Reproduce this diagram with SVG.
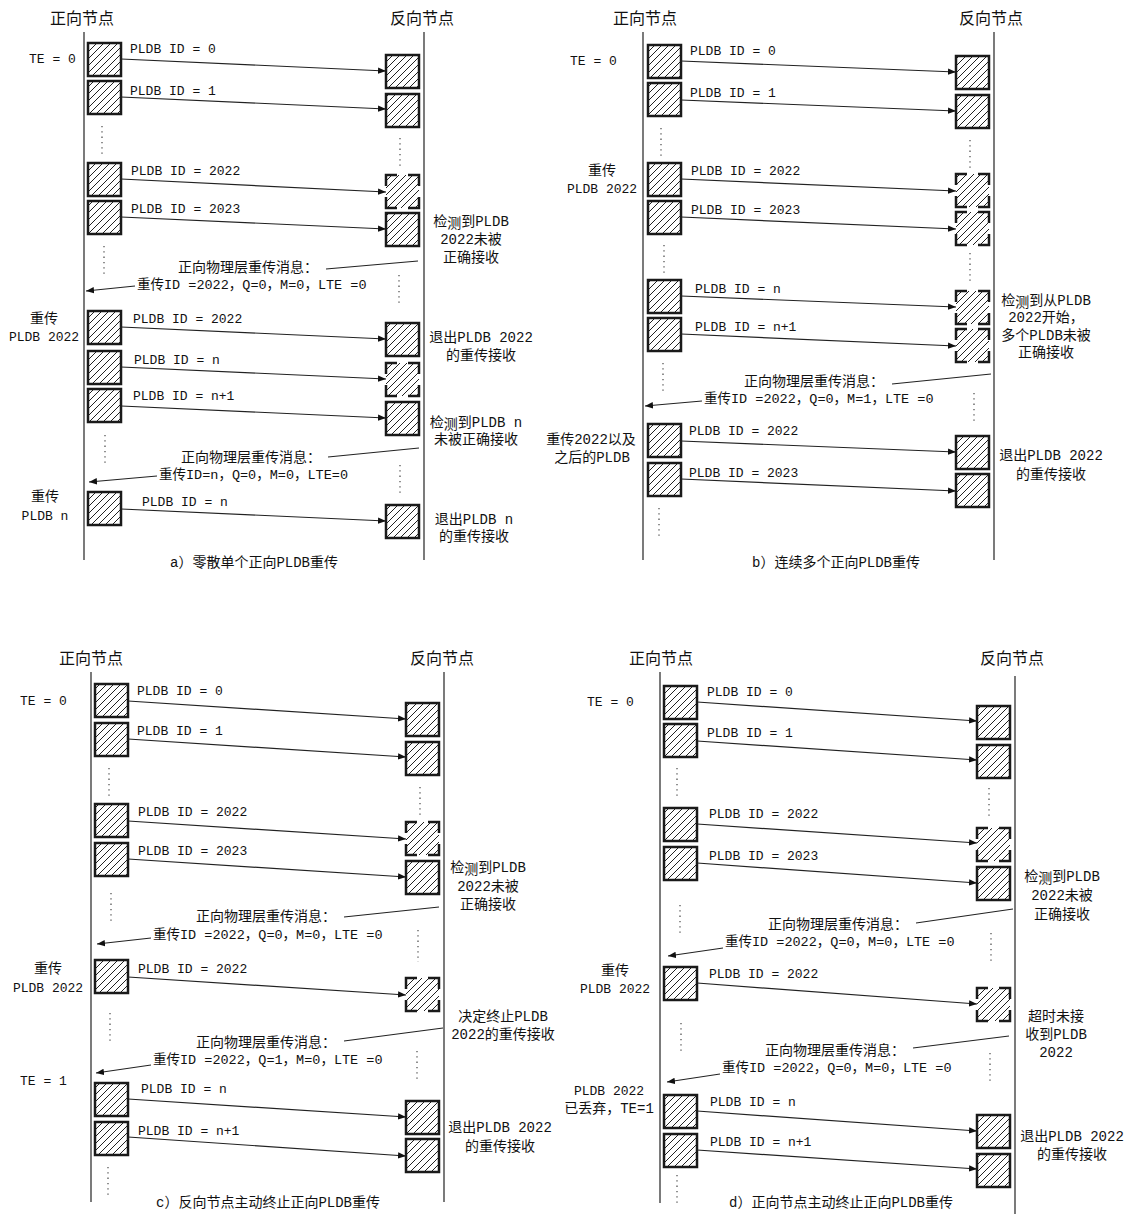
<svg xmlns="http://www.w3.org/2000/svg" width="1128" height="1214" viewBox="0 0 1128 1214">
<style>
.bg{fill:#fff}
.box{fill:url(#hatch);stroke:#1a1a1a;stroke-width:2.5}
.dbox{fill:url(#hatch);stroke:#1a1a1a;stroke-width:2.5;stroke-dasharray:22 11;stroke-dashoffset:11}
.life{stroke:#333;stroke-width:1.3;fill:none}
.arrow{stroke:#222;stroke-width:1.2;fill:none;marker-end:url(#arr)}
.line{stroke:#222;stroke-width:1.2;fill:none}
.dots{stroke:#555;stroke-width:1.3;stroke-dasharray:1.3 4;fill:none}
text{font-family:"Liberation Mono","Noto Sans CJK SC",monospace;fill:#111;dominant-baseline:central}
.t{font-size:13px}
.c{font-size:14px;text-anchor:middle}
.m{font-size:13.5px}
.h{font-size:16px;text-anchor:middle;font-family:"Noto Sans CJK SC",sans-serif}
.k{font-family:"Noto Sans CJK SC",sans-serif;fill:#111}
</style>
<defs>
<pattern id="hatch" patternUnits="userSpaceOnUse" width="7" height="7">
<rect width="7" height="7" fill="#fff"/>
<path d="M-1,1 l2,-2 M0,7 l7,-7 M6,8 l2,-2" stroke="#222" stroke-width="1"/>
</pattern>
<marker id="arr" viewBox="0 0 10 10" refX="10" refY="5" markerWidth="8" markerHeight="8" markerUnits="userSpaceOnUse" orient="auto">
<path d="M0,1 L10,5 L0,9 z" fill="#111"/>
</marker>
</defs>
<rect class="bg" width="1128" height="1214"/>

<!-- ================= Panel a ================= -->
<g id="panel-a">
<g id="a-lifelines">
<line class="life" x1="84" y1="32" x2="84" y2="560"/>
<line class="life" x1="424" y1="32" x2="424" y2="560"/>
<text class="h" x="82" y="17">正向节点</text>
<text class="h" x="422" y="17">反向节点</text>
</g>
<g id="a-nodes">
<g id="a-L1"><rect class="box" x="88" y="43" width="33" height="33"/></g>
<g id="a-R1"><rect class="box" x="386" y="55" width="33" height="33"/></g>
<g id="a-L2"><rect class="box" x="88" y="81" width="33" height="33"/></g>
<g id="a-R2"><rect class="box" x="386" y="94" width="33" height="33"/></g>
<g id="a-L3"><rect class="box" x="88" y="163" width="33" height="33"/></g>
<g id="a-R3"><rect class="dbox" x="386" y="175" width="33" height="33"/></g>
<g id="a-L4"><rect class="box" x="88" y="201" width="33" height="33"/></g>
<g id="a-R4"><rect class="box" x="386" y="213" width="33" height="33"/></g>
<g id="a-L5"><rect class="box" x="88" y="311" width="33" height="33"/></g>
<g id="a-R5"><rect class="box" x="386" y="323" width="33" height="33"/></g>
<g id="a-L6"><rect class="box" x="88" y="351" width="33" height="33"/></g>
<g id="a-R6"><rect class="dbox" x="386" y="363" width="33" height="33"/></g>
<g id="a-L7"><rect class="box" x="88" y="389" width="33" height="33"/></g>
<g id="a-R7"><rect class="box" x="386" y="402" width="33" height="33"/></g>
<g id="a-L8"><rect class="box" x="88" y="492" width="33" height="33"/></g>
<g id="a-R8"><rect class="box" x="386" y="505" width="33" height="33"/></g>
</g>
<g id="a-connectors">
<line class="arrow" x1="121" y1="59" x2="386" y2="71"/>
<line class="arrow" x1="121" y1="97" x2="386" y2="109"/>
<line class="arrow" x1="121" y1="179" x2="386" y2="192"/>
<line class="arrow" x1="121" y1="217" x2="386" y2="229"/>
<line class="arrow" x1="121" y1="327" x2="386" y2="339"/>
<line class="arrow" x1="121" y1="367" x2="386" y2="379"/>
<line class="arrow" x1="121" y1="406" x2="386" y2="418"/>
<line class="arrow" x1="121" y1="509" x2="386" y2="521"/>
<line class="line" x1="418" y1="261" x2="326" y2="269"/>
<line class="arrow" x1="135" y1="286" x2="86" y2="291"/>
<line class="line" x1="419" y1="448" x2="328" y2="457"/>
<line class="arrow" x1="157" y1="476" x2="89" y2="482"/>
<line class="dots" x1="102" y1="126" x2="102" y2="156"/>
<line class="dots" x1="104" y1="246" x2="104" y2="276"/>
<line class="dots" x1="105" y1="435" x2="105" y2="465"/>
<line class="dots" x1="400" y1="138" x2="400" y2="168"/>
<line class="dots" x1="399" y1="275" x2="399" y2="305"/>
<line class="dots" x1="400" y1="465" x2="400" y2="495"/>
</g>
<g id="a-labels">
<text class="t" x="130" y="49">PLDB ID = 0</text>
<text class="t" x="130" y="91">PLDB ID = 1</text>
<text class="t" x="131" y="171">PLDB ID = 2022</text>
<text class="t" x="131" y="209">PLDB ID = 2023</text>
<text class="t" x="133" y="319">PLDB ID = 2022</text>
<text class="t" x="134" y="360">PLDB ID = n</text>
<text class="t" x="133" y="396">PLDB ID = n+1</text>
<text class="t" x="142" y="502">PLDB ID = n</text>
<text class="t" x="29" y="59">TE = 0</text>
<text class="c" x="44" y="319">重传</text>
<text class="t" x="44" y="337" text-anchor="middle">PLDB 2022</text>
<text class="c" x="45" y="497">重传</text>
<text class="t" x="45" y="516" text-anchor="middle">PLDB n</text>
<text class="c" x="471" y="222">检<tspan class="k">测</tspan>到PLDB</text>
<text class="c" x="471" y="240">2022未被</text>
<text class="c" x="471" y="258">正确接收</text>
<text class="c" x="248" y="268">正向物理层重传消息：</text>
<text class="m" x="137" y="285">重传ID =2022，Q=0，M=0，LTE =0</text>
<text class="c" x="481" y="338">退出PLDB 2022</text>
<text class="c" x="481" y="356">的重传接收</text>
<text class="c" x="476" y="423">检<tspan class="k">测</tspan>到PLDB n</text>
<text class="c" x="476" y="440">未被正确接收</text>
<text class="c" x="251" y="458">正向物理层重传消息：</text>
<text class="m" x="159" y="475">重传ID=n，Q=0，M=0，LTE=0</text>
<text class="c" x="474" y="520">退出PLDB n</text>
<text class="c" x="474" y="537">的重传接收</text>
<text class="c" x="254" y="563">a）零散单个正向PLDB重传</text>
</g>
</g>

<!-- ================= Panel b ================= -->
<g id="panel-b">
<g id="b-lifelines">
<line class="life" x1="643" y1="32" x2="643" y2="560"/>
<line class="life" x1="994" y1="32" x2="994" y2="560"/>
<text class="h" x="645" y="17">正向节点</text>
<text class="h" x="991" y="17">反向节点</text>
</g>
<g id="b-nodes">
<g id="b-L1"><rect class="box" x="648" y="45" width="33" height="33"/></g>
<g id="b-R1"><rect class="box" x="956" y="56" width="33" height="33"/></g>
<g id="b-L2"><rect class="box" x="648" y="83" width="33" height="33"/></g>
<g id="b-R2"><rect class="box" x="956" y="95" width="33" height="33"/></g>
<g id="b-L3"><rect class="box" x="648" y="163" width="33" height="33"/></g>
<g id="b-R3"><rect class="dbox" x="956" y="174" width="33" height="33"/></g>
<g id="b-L4"><rect class="box" x="648" y="201" width="33" height="33"/></g>
<g id="b-R4"><rect class="dbox" x="956" y="212" width="33" height="33"/></g>
<g id="b-L5"><rect class="box" x="648" y="280" width="33" height="33"/></g>
<g id="b-R5"><rect class="dbox" x="956" y="291" width="33" height="33"/></g>
<g id="b-L6"><rect class="box" x="648" y="318" width="33" height="33"/></g>
<g id="b-R6"><rect class="dbox" x="956" y="329" width="33" height="33"/></g>
<g id="b-L7"><rect class="box" x="648" y="424" width="33" height="33"/></g>
<g id="b-R7"><rect class="box" x="956" y="436" width="33" height="33"/></g>
<g id="b-L8"><rect class="box" x="648" y="463" width="33" height="33"/></g>
<g id="b-R8"><rect class="box" x="956" y="474" width="33" height="33"/></g>
</g>
<g id="b-connectors">
<line class="arrow" x1="681" y1="61" x2="956" y2="72"/>
<line class="arrow" x1="681" y1="100" x2="956" y2="111"/>
<line class="arrow" x1="681" y1="179" x2="956" y2="191"/>
<line class="arrow" x1="681" y1="217" x2="956" y2="229"/>
<line class="arrow" x1="681" y1="296" x2="956" y2="307"/>
<line class="arrow" x1="681" y1="334" x2="956" y2="346"/>
<line class="arrow" x1="681" y1="441" x2="956" y2="452"/>
<line class="arrow" x1="681" y1="479" x2="956" y2="491"/>
<line class="line" x1="991" y1="374" x2="892" y2="384"/>
<line class="arrow" x1="702" y1="401" x2="645" y2="406"/>
<line class="dots" x1="661" y1="128" x2="661" y2="157"/>
<line class="dots" x1="664" y1="245" x2="664" y2="275"/>
<line class="dots" x1="663" y1="363" x2="663" y2="392"/>
<line class="dots" x1="659" y1="508" x2="659" y2="538"/>
<line class="dots" x1="970" y1="140" x2="970" y2="170"/>
<line class="dots" x1="970" y1="253" x2="970" y2="283"/>
<line class="dots" x1="974" y1="393" x2="974" y2="422"/>
</g>
<g id="b-labels">
<text class="t" x="690" y="51">PLDB ID = 0</text>
<text class="t" x="690" y="93">PLDB ID = 1</text>
<text class="t" x="691" y="171">PLDB ID = 2022</text>
<text class="t" x="691" y="210">PLDB ID = 2023</text>
<text class="t" x="695" y="289">PLDB ID = n</text>
<text class="t" x="695" y="327">PLDB ID = n+1</text>
<text class="t" x="689" y="431">PLDB ID = 2022</text>
<text class="t" x="689" y="473">PLDB ID = 2023</text>
<text class="t" x="570" y="61">TE = 0</text>
<text class="c" x="602" y="171">重传</text>
<text class="t" x="602" y="189" text-anchor="middle">PLDB 2022</text>
<text class="c" x="1046" y="301">检<tspan class="k">测</tspan>到从PLDB</text>
<text class="c" x="1046" y="318">2022开始，</text>
<text class="c" x="1046" y="336">多个PLDB未被</text>
<text class="c" x="1046" y="353">正确接收</text>
<text class="c" x="814" y="382">正向物理层重传消息：</text>
<text class="m" x="704" y="399">重传ID =2022，Q=0，M=1，LTE =0</text>
<text class="c" x="591" y="440">重传2022以及</text>
<text class="c" x="592" y="458">之后的PLDB</text>
<text class="c" x="1051" y="456">退出PLDB 2022</text>
<text class="c" x="1051" y="475">的重传接收</text>
<text class="c" x="836" y="563">b）连续多个正向PLDB重传</text>
</g>
</g>

<!-- ================= Panel c ================= -->
<g id="panel-c">
<g id="c-lifelines">
<line class="life" x1="91" y1="672" x2="91" y2="1202"/>
<line class="life" x1="444" y1="672" x2="444" y2="1202"/>
<text class="h" x="91" y="657">正向节点</text>
<text class="h" x="442" y="657">反向节点</text>
</g>
<g id="c-nodes">
<g id="c-L1"><rect class="box" x="95" y="684" width="33" height="33"/></g>
<g id="c-R1"><rect class="box" x="406" y="703" width="33" height="33"/></g>
<g id="c-L2"><rect class="box" x="95" y="723" width="33" height="33"/></g>
<g id="c-R2"><rect class="box" x="406" y="742" width="33" height="33"/></g>
<g id="c-L3"><rect class="box" x="95" y="804" width="33" height="33"/></g>
<g id="c-R3"><rect class="dbox" x="406" y="822" width="33" height="33"/></g>
<g id="c-L4"><rect class="box" x="95" y="843" width="33" height="33"/></g>
<g id="c-R4"><rect class="box" x="406" y="861" width="33" height="33"/></g>
<g id="c-L5"><rect class="box" x="95" y="960" width="33" height="33"/></g>
<g id="c-R5"><rect class="dbox" x="406" y="978" width="33" height="33"/></g>
<g id="c-L6"><rect class="box" x="95" y="1083" width="33" height="33"/></g>
<g id="c-R6"><rect class="box" x="406" y="1101" width="33" height="33"/></g>
<g id="c-L7"><rect class="box" x="95" y="1122" width="33" height="33"/></g>
<g id="c-R7"><rect class="box" x="406" y="1139" width="33" height="33"/></g>
</g>
<g id="c-connectors">
<line class="arrow" x1="128" y1="701" x2="406" y2="719"/>
<line class="arrow" x1="128" y1="739" x2="406" y2="757"/>
<line class="arrow" x1="128" y1="821" x2="406" y2="839"/>
<line class="arrow" x1="128" y1="859" x2="406" y2="877"/>
<line class="arrow" x1="128" y1="977" x2="406" y2="995"/>
<line class="arrow" x1="128" y1="1099" x2="406" y2="1117"/>
<line class="arrow" x1="128" y1="1137" x2="406" y2="1156"/>
<line class="line" x1="439" y1="907" x2="344" y2="917"/>
<line class="arrow" x1="151" y1="938" x2="97" y2="944"/>
<line class="line" x1="443" y1="1028" x2="344" y2="1041"/>
<line class="arrow" x1="151" y1="1065" x2="96" y2="1073"/>
<line class="dots" x1="109" y1="768" x2="109" y2="798"/>
<line class="dots" x1="111" y1="893" x2="111" y2="923"/>
<line class="dots" x1="110" y1="1013" x2="110" y2="1043"/>
<line class="dots" x1="108" y1="1167" x2="108" y2="1197"/>
<line class="dots" x1="420" y1="787" x2="420" y2="817"/>
<line class="dots" x1="418" y1="930" x2="418" y2="962"/>
<line class="dots" x1="417" y1="1051" x2="417" y2="1082"/>
</g>
<g id="c-labels">
<text class="t" x="137" y="691">PLDB ID = 0</text>
<text class="t" x="137" y="731">PLDB ID = 1</text>
<text class="t" x="138" y="812">PLDB ID = 2022</text>
<text class="t" x="138" y="851">PLDB ID = 2023</text>
<text class="t" x="138" y="969">PLDB ID = 2022</text>
<text class="t" x="141" y="1089">PLDB ID = n</text>
<text class="t" x="138" y="1131">PLDB ID = n+1</text>
<text class="t" x="20" y="701">TE = 0</text>
<text class="c" x="48" y="969">重传</text>
<text class="t" x="48" y="988" text-anchor="middle">PLDB 2022</text>
<text class="t" x="20" y="1081">TE = 1</text>
<text class="c" x="488" y="868">检<tspan class="k">测</tspan>到PLDB</text>
<text class="c" x="488" y="887">2022未被</text>
<text class="c" x="488" y="905">正确接收</text>
<text class="c" x="266" y="917">正向物理层重传消息：</text>
<text class="m" x="153" y="935">重传ID =2022，Q=0，M=0，LTE =0</text>
<text class="c" x="503" y="1017">决定终止PLDB</text>
<text class="c" x="503" y="1035">2022的重传接收</text>
<text class="c" x="266" y="1043">正向物理层重传消息：</text>
<text class="m" x="153" y="1060">重传ID =2022，Q=1，M=0，LTE =0</text>
<text class="c" x="500" y="1128">退出PLDB 2022</text>
<text class="c" x="500" y="1147">的重传接收</text>
<text class="c" x="268" y="1203">c）反向节点主动终止正向PLDB重传</text>
</g>
</g>

<!-- ================= Panel d ================= -->
<g id="panel-d">
<g id="d-lifelines">
<line class="life" x1="660" y1="672" x2="660" y2="1203"/>
<line class="life" x1="1015" y1="676" x2="1015" y2="1214"/>
<text class="h" x="661" y="657">正向节点</text>
<text class="h" x="1012" y="657">反向节点</text>
</g>
<g id="d-nodes">
<g id="d-L1"><rect class="box" x="664" y="686" width="33" height="33"/></g>
<g id="d-R1"><rect class="box" x="977" y="706" width="33" height="33"/></g>
<g id="d-L2"><rect class="box" x="664" y="724" width="33" height="33"/></g>
<g id="d-R2"><rect class="box" x="977" y="745" width="33" height="33"/></g>
<g id="d-L3"><rect class="box" x="664" y="808" width="33" height="33"/></g>
<g id="d-R3"><rect class="dbox" x="977" y="828" width="33" height="33"/></g>
<g id="d-L4"><rect class="box" x="664" y="847" width="33" height="33"/></g>
<g id="d-R4"><rect class="box" x="977" y="867" width="33" height="33"/></g>
<g id="d-L5"><rect class="box" x="664" y="967" width="33" height="33"/></g>
<g id="d-R5"><rect class="dbox" x="977" y="988" width="33" height="33"/></g>
<g id="d-L6"><rect class="box" x="664" y="1095" width="33" height="33"/></g>
<g id="d-R6"><rect class="box" x="977" y="1115" width="33" height="33"/></g>
<g id="d-L7"><rect class="box" x="664" y="1134" width="33" height="33"/></g>
<g id="d-R7"><rect class="box" x="977" y="1154" width="33" height="33"/></g>
</g>
<g id="d-connectors">
<line class="arrow" x1="697" y1="702" x2="977" y2="721"/>
<line class="arrow" x1="697" y1="741" x2="977" y2="760"/>
<line class="arrow" x1="697" y1="824" x2="977" y2="843"/>
<line class="arrow" x1="697" y1="863" x2="977" y2="883"/>
<line class="arrow" x1="697" y1="983" x2="977" y2="1004"/>
<line class="arrow" x1="697" y1="1111" x2="977" y2="1131"/>
<line class="arrow" x1="697" y1="1150" x2="977" y2="1169"/>
<line class="line" x1="1013" y1="909" x2="916" y2="923"/>
<line class="arrow" x1="723" y1="948" x2="668" y2="956"/>
<line class="line" x1="1009" y1="1036" x2="913" y2="1048"/>
<line class="arrow" x1="720" y1="1074" x2="667" y2="1082"/>
<line class="dots" x1="677" y1="768" x2="677" y2="798"/>
<line class="dots" x1="680" y1="905" x2="680" y2="933"/>
<line class="dots" x1="681" y1="1023" x2="681" y2="1053"/>
<line class="dots" x1="677" y1="1175" x2="677" y2="1205"/>
<line class="dots" x1="989" y1="788" x2="989" y2="818"/>
<line class="dots" x1="991" y1="933" x2="991" y2="963"/>
<line class="dots" x1="990" y1="1053" x2="990" y2="1083"/>
</g>
<g id="d-labels">
<text class="t" x="707" y="692">PLDB ID = 0</text>
<text class="t" x="707" y="733">PLDB ID = 1</text>
<text class="t" x="709" y="814">PLDB ID = 2022</text>
<text class="t" x="709" y="856">PLDB ID = 2023</text>
<text class="t" x="709" y="974">PLDB ID = 2022</text>
<text class="t" x="710" y="1102">PLDB ID = n</text>
<text class="t" x="710" y="1142">PLDB ID = n+1</text>
<text class="t" x="587" y="702">TE = 0</text>
<text class="c" x="615" y="971">重传</text>
<text class="t" x="615" y="989" text-anchor="middle">PLDB 2022</text>
<text class="t" x="609" y="1091" text-anchor="middle">PLDB 2022</text>
<text class="c" x="609" y="1109">已丢弃，TE=1</text>
<text class="c" x="1062" y="877">检<tspan class="k">测</tspan>到PLDB</text>
<text class="c" x="1062" y="896">2022未被</text>
<text class="c" x="1062" y="915">正确接收</text>
<text class="c" x="838" y="925">正向物理层重传消息：</text>
<text class="m" x="725" y="942">重传ID =2022，Q=0，M=0，LTE =0</text>
<text class="c" x="1056" y="1017">超时未接</text>
<text class="c" x="1056" y="1035">收到PLDB</text>
<text class="c" x="1056" y="1053">2022</text>
<text class="c" x="835" y="1051">正向物理层重传消息：</text>
<text class="m" x="722" y="1068">重传ID =2022，Q=0，M=0，LTE =0</text>
<text class="c" x="1072" y="1137">退出PLDB 2022</text>
<text class="c" x="1072" y="1155">的重传接收</text>
<text class="c" x="841" y="1203">d）正向节点主动终止正向PLDB重传</text>
</g>
</g>
</svg>
